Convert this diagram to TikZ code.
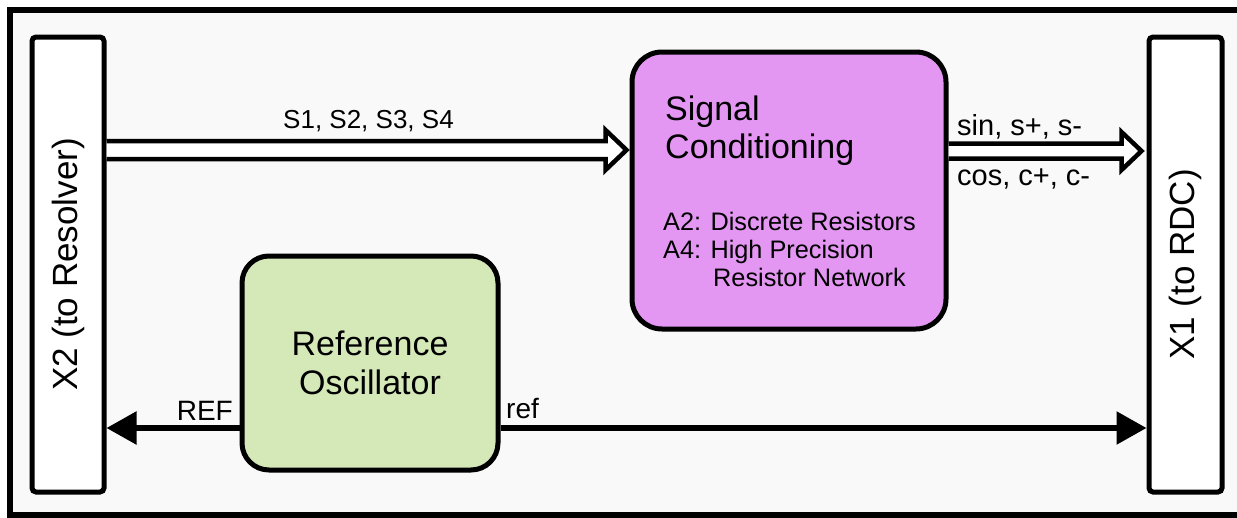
\documentclass[tikz,border=0pt]{standalone}
\usepackage{fontspec}
\setmainfont{Liberation Sans}
\usetikzlibrary{arrows.meta,calc}
\definecolor{frameBg}{HTML}{F9F9F9}
\definecolor{scFill}{HTML}{E396F2}
\definecolor{roFill}{HTML}{D5E8B8}
\begin{document}
\begin{tikzpicture}[x=1pt,y=-1pt,
  conn/.style={draw=black, rounded corners=4pt, line width=5pt, fill=white, inner sep=0pt},
  block/.style={draw=black, line width=5pt, inner sep=0pt},
  lbl/.style={font=\fontsize{28}{30}\selectfont, inner sep=0pt},
  intxt/.style={anchor=base west, inner sep=0pt},
  sig/.style={line width=5.5pt, -{Triangle[length=30pt,width=32pt]}},
  hollow/.style={draw=black, line width=4.5pt, fill=white, line join=miter}
]
\useasboundingbox (0,0) rectangle (1237,517);
\clip (0,0) rectangle (1237,517);
\fill[white] (0,0) rectangle (1237,517);
\draw[line width=6pt, fill=frameBg] (10,10) rectangle (1250,515);

% connectors (boxes)
\node[conn, minimum width=72pt, minimum height=455pt] (x2) at (68,264.5)
  {\rotatebox{90}{\fontsize{35}{40}\selectfont X2 (to Resolver)}};
\node[conn, minimum width=73pt, minimum height=455pt] (x1) at (1185.5,264.5)
  {\rotatebox{90}{\fontsize{35}{40}\selectfont X1 (to RDC)}};

% signal conditioning
\node[block, fill=scFill, rounded corners=30pt, minimum width=314pt, minimum height=277pt] (sc) at (789,190.5) {};
\node[intxt, font=\fontsize{34}{38}\selectfont] (t1) at (665,120) {Signal};
\node[intxt, font=\fontsize{34}{38}\selectfont] (t2) at (665,158) {Conditioning};
\node[intxt, font=\fontsize{25.3}{28}\selectfont] (t3) at (663,230) {A2: Discrete Resistors};
\node[intxt, font=\fontsize{25.3}{28}\selectfont] (t4) at (663,258) {A4: High Precision};
\node[intxt, font=\fontsize{25.3}{28}\selectfont] (t5) at (713,286) {Resistor Network};

% reference oscillator
\node[block, fill=roFill, rounded corners=27pt, minimum width=256pt, minimum height=214pt,
  align=center, font=\fontsize{34}{39}\selectfont] (ro) at (370,363) {Reference\\Oscillator};

% hollow bus arrows
\coordinate (hA) at (x2.east |- 0,150);
\coordinate (hB) at (sc.west |- 0,150);
\draw[hollow] ($(hA)+(0,-9)$) -- ($(hB)+(-24,-9)$) -- ($(hB)+(-24,-20)$) -- ($(hB)+(-3,0)$)
  -- ($(hB)+(-24,20)$) -- ($(hB)+(-24,9)$) -- ($(hA)+(0,9)$);
\coordinate (hC) at (sc.east |- 0,151);
\coordinate (hD) at (x1.west |- 0,151);
\draw[hollow] ($(hC)+(0,-7.5)$) -- ($(hD)+(-25,-7.5)$) -- ($(hD)+(-25,-19)$) -- ($(hD)+(-5,0)$)
  -- ($(hD)+(-25,19)$) -- ($(hD)+(-25,7.5)$) -- ($(hC)+(0,7.5)$);

% reference lines
\draw[sig] (ro.west |- 0,428) -- (x2.east |- 0,428);
\draw[sig] (ro.east |- 0,428) -- (x1.west |- 0,428);

% labels
\node[lbl, font=\fontsize{26}{30}\selectfont, anchor=base west] (lS) at (283,128) {S1, S2, S3, S4};
\node[lbl, font=\fontsize{29}{30}\selectfont, anchor=base west] (lsin) at (957,135) {sin, s+, s-};
\node[lbl, font=\fontsize{29}{30}\selectfont, anchor=base west] (lcos) at (957,185) {cos, c+, c-};
\node[lbl, anchor=base east] (lREF) at (233,420) {REF};
\node[lbl, anchor=base west] (lref) at (506,418) {ref};
\end{tikzpicture}
\end{document}
